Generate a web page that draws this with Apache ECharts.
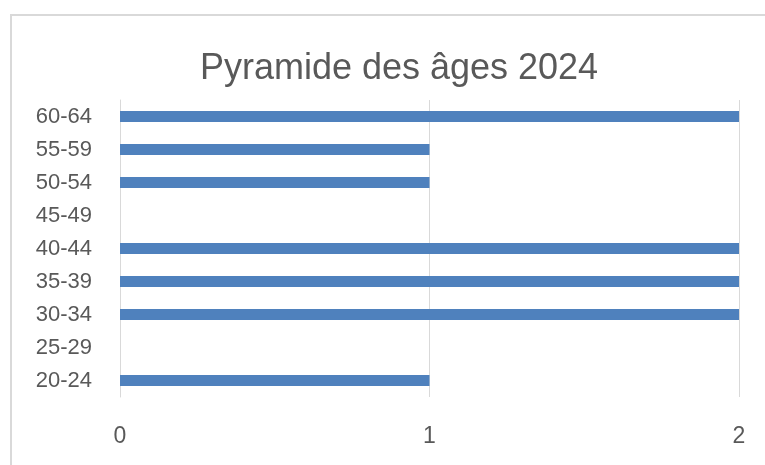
<!DOCTYPE html>
<html>
<head>
<meta charset="utf-8">
<script src="https://cdn.jsdelivr.net/npm/echarts@6/dist/echarts.min.js"></script>
<style>
  html, body { margin: 0; padding: 0; background: #fff; }
  #frame {
    position: absolute; left: 10px; top: 14px; width: 800px; height: 500px;
    border-left: 2px solid #d9d9d9; border-top: 2px solid #d9d9d9;
  }
  #chart { position: absolute; left: 0; top: 0; width: 765px; height: 465px; }
</style>
</head>
<body>
<div id="frame"></div>
<div id="chart"></div>
<script>
const ageGroups = ["20-24", "25-29", "30-34", "35-39", "40-44", "45-49", "50-54", "55-59", "60-64"];
const counts = [1, 0, 2, 2, 2, 0, 1, 1, 2];
const valueTicks = [0, 1, 2];

let myChart = echarts.init(document.getElementById("chart"));
let option;

option = {
  animation: false,
  textStyle: { fontFamily: "Liberation Sans, Arial, sans-serif" },
  title: {
    text: "Pyramide des âges 2024",
    left: 394,
    textAlign: "center",
    top: 46,
    textStyle: { fontSize: 36, fontWeight: "normal", color: "#595959" },
  },
  grid: { left: 120, top: 100, width: 619, height: 297 },
  xAxis: {
    type: "value",
    min: valueTicks[0],
    max: valueTicks[valueTicks.length - 1],
    interval: 1,
    axisLine: { show: false },
    axisTick: { show: false },
    splitLine: { show: true, lineStyle: { color: "#d9d9d9", width: 1 } },
    axisLabel: { color: "#595959", fontSize: 23, margin: 28 },
  },
  yAxis: {
    type: "category",
    data: ageGroups,
    axisLine: { show: true, lineStyle: { color: "#d9d9d9", width: 1 } },
    axisTick: { show: false },
    axisLabel: { color: "#595959", fontSize: 22, margin: 28 },
  },
  series: [
    {
      type: "bar",
      data: counts,
      barWidth: 11,
      itemStyle: { color: "#4f81bd" },
    },
  ],
};

option && myChart.setOption(option);
</script>
</body>
</html>
